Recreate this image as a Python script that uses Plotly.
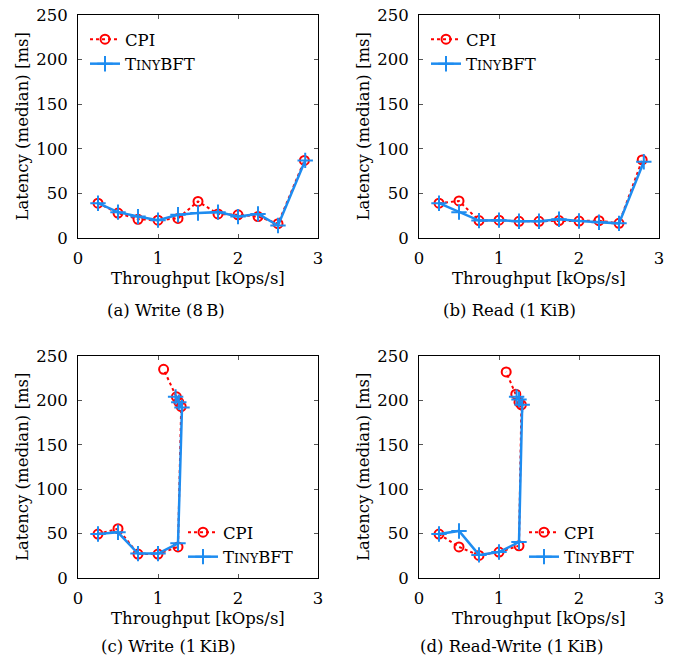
import plotly.graph_objects as go

# ---------------- data ----------------
a_cpi_x = [0.25, 0.5, 0.75, 1.0, 1.25, 1.5, 1.75, 2.0, 2.25, 2.5, 2.83]
a_cpi_y = [39, 28, 21, 20, 22, 41, 27, 26, 24, 16, 87]
a_tiny_x = [0.25, 0.5, 0.75, 1.0, 1.25, 1.5, 1.75, 2.0, 2.25, 2.5, 2.84]
a_tiny_y = [39, 29, 24, 20, 26, 28, 29, 24, 27, 14, 87]

b_cpi_x = [0.25, 0.5, 0.75, 1.0, 1.25, 1.5, 1.75, 2.0, 2.25, 2.5, 2.79]
b_cpi_y = [39, 41.5, 19.5, 20, 18.7, 18.7, 19.5, 19, 19.4, 16.4, 87.5]
b_tiny_x = [0.25, 0.5, 0.75, 1.0, 1.25, 1.5, 1.75, 2.0, 2.25, 2.5, 2.81]
b_tiny_y = [39, 29, 19.5, 20, 18.7, 18.7, 21, 19, 17.6, 16.4, 85.5]

c_cpi_x = [0.25, 0.5, 0.75, 1.0, 1.25, 1.29, 1.26, 1.23, 1.07]
c_cpi_y = [49.5, 55.5, 27, 27, 35, 193, 198, 204, 235]
c_tiny_x = [0.25, 0.5, 0.75, 1.0, 1.25, 1.30, 1.26, 1.22]
c_tiny_y = [49.5, 51.5, 27.5, 27.5, 39, 192, 198, 204]

d_cpi_x = [0.25, 0.5, 0.75, 1.0, 1.25, 1.28, 1.25, 1.21, 1.09]
d_cpi_y = [49.5, 35, 25.4, 29.2, 36.3, 195, 198, 207, 232]
d_tiny_x = [0.25, 0.5, 0.75, 1.0, 1.25, 1.29, 1.25, 1.22]
d_tiny_y = [49.5, 53, 26, 29.2, 40.5, 195, 201, 204]

x_ticks = [0, 1, 2, 3]
y_ticks = [0, 50, 100, 150, 200, 250]
captions = ["(a) Write (8\u2009B)", "(b) Read (1\u2009KiB)",
            "(c) Write (1\u2009KiB)", "(d) Read-Write (1\u2009KiB)"]
series_names = ["CPI", "T<span style=\"font-size:12.5px\">INY</span>BFT"]
x_title = "Throughput [kOps/s]"
y_title = "Latency (median) [ms]"

# ---------------- layout ----------------
W, H = 688, 658
FONT = "DejaVu Serif"
FS = 16.5
RED = "#FF0000"
BLUE = "#1E8CF0"

panels = [
    (a_cpi_x, a_cpi_y, a_tiny_x, a_tiny_y),
    (b_cpi_x, b_cpi_y, b_tiny_x, b_tiny_y),
    (c_cpi_x, c_cpi_y, c_tiny_x, c_tiny_y),
    (d_cpi_x, d_cpi_y, d_tiny_x, d_tiny_y),
]
# pixel boxes (left, right, top, bottom)
boxes = [(78, 318, 15, 238), (419, 659, 15, 238),
         (78, 318, 356, 578), (419, 659, 356, 578)]
legend_pos = [(85, 22), (426, 22), (183, 515), (524, 515)]
caption_pos = [(166, 310), (509, 310), (168, 646), (511, 646)]

fig = go.Figure()
layout = dict(width=W, height=H, margin=dict(l=0, r=0, t=0, b=0),
              plot_bgcolor="white", paper_bgcolor="white",
              font=dict(family=FONT, size=FS, color="black"),
              annotations=[])

for i, (cx, cy, tx, ty) in enumerate(panels):
    k = "" if i == 0 else str(i + 1)
    lg = "legend" + k
    fig.add_trace(go.Scatter(x=cx, y=cy, name=series_names[0], mode="lines+markers",
                             xaxis="x" + k, yaxis="y" + k, legend=lg,
                             line=dict(color=RED, width=2, dash="dot"),
                             marker=dict(symbol="circle-open", size=9, color=RED,
                                         line=dict(width=2, color=RED))))
    fig.add_trace(go.Scatter(x=tx, y=ty, name=series_names[1], mode="lines+markers",
                             xaxis="x" + k, yaxis="y" + k, legend=lg,
                             line=dict(color=BLUE, width=2.5),
                             marker=dict(symbol="cross-thin-open", size=11, color=BLUE,
                                         line=dict(width=2, color=BLUE))))
    l, r, t, b = boxes[i]
    ax = dict(showgrid=False, zeroline=False, showline=True, linecolor="black",
              linewidth=1, mirror="ticks", ticks="inside", ticklen=4,
              tickcolor="#555", tickwidth=1, tickfont=dict(family=FONT, size=FS),
              fixedrange=True, automargin=False)
    layout["xaxis" + k] = dict(ax, domain=[l / W, r / W], range=[0, 3],
                               tickvals=x_ticks, anchor="y" + k, ticklabelstandoff=5)
    layout["yaxis" + k] = dict(ax, domain=[1 - b / H, 1 - t / H], range=[0, 250],
                               tickvals=y_ticks, anchor="x" + k, ticklabelstandoff=6)
    lx, ly = legend_pos[i]
    layout[lg] = dict(x=lx / W, y=1 - ly / H, xanchor="left", yanchor="top",
                      bgcolor="rgba(0,0,0,0)", borderwidth=0,
                      font=dict(family=FONT, size=FS), tracegroupgap=0)
    # axis titles
    layout["annotations"].append(dict(text=x_title, xref="paper", yref="paper",
                                      x=(l + r) / 2 / W, y=1 - (b + 40) / H,
                                      showarrow=False, xanchor="center", yanchor="middle",
                                      font=dict(family=FONT, size=FS)))
    layout["annotations"].append(dict(text=y_title, xref="paper", yref="paper",
                                      x=(l - 56) / W, y=1 - (t + b) / 2 / H, textangle=-90,
                                      showarrow=False, xanchor="center", yanchor="middle",
                                      font=dict(family=FONT, size=FS)))
    cxp, cyp = caption_pos[i]
    layout["annotations"].append(dict(text=captions[i], xref="paper", yref="paper",
                                      x=cxp / W, y=1 - cyp / H, showarrow=False,
                                      xanchor="center", yanchor="middle",
                                      font=dict(family=FONT, size=FS)))

fig.update_layout(**layout)
fig.write_html("out.html", config={"displayModeBar": False},
               post_script="document.body.style.margin='0';document.body.style.overflow='hidden';")
